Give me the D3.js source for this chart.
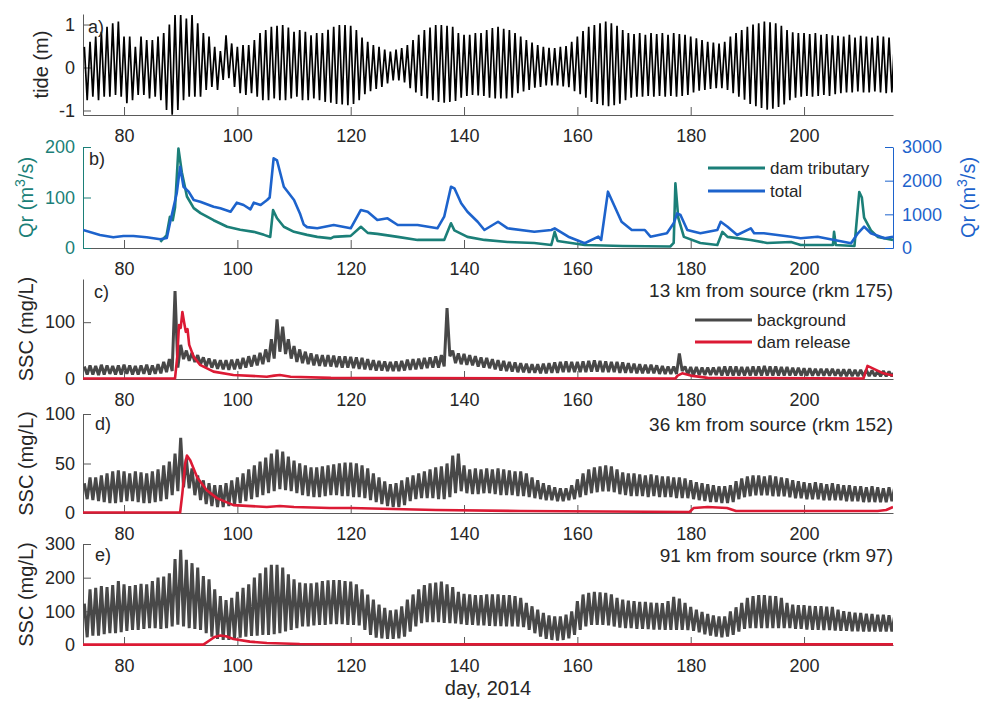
<!DOCTYPE html>
<html>
<head>
<meta charset="utf-8">
<script src="https://cdn.jsdelivr.net/npm/d3@7"></script>
<style>
  body { margin: 0; background: #fff; }
  svg { font-family: "Liberation Sans", Arial, Helvetica, sans-serif; }
</style>
</head>
<body>
<div id="chart"></div>
<script>
// days 73..216, one high and one low per day
var firstDay = 73;
var dayTicks = [80, 100, 120, 140, 160, 180, 200];

var tideHi = [0.48,0.6,0.72,0.83,0.95,1.03,1.07,0.72,0.72,0.48,
  0.72,0.64,0.64,0.72,0.8,1.0,1.22,1.22,1.14,1.22,
  1.03,0.8,0.72,0.48,0.38,0.75,0.56,0.48,0.52,0.52,
  0.64,0.8,0.87,0.95,0.97,0.99,0.93,0.83,0.87,0.83,
  0.75,
  0.8,0.8,0.88,0.95,0.99,0.99,0.97,0.87,0.7,0.6,
  0.52,0.48,0.42,0.37,0.42,0.45,0.52,0.64,0.76,0.87,
  0.93,0.99,0.99,0.97,0.95,0.8,0.76,0.76,0.8,0.8,
  0.87,0.92,0.95,0.9,0.87,0.8,0.72,0.64,0.58,0.52,
  0.48,0.46,0.45,0.48,0.5,0.6,0.72,0.85,0.95,0.99,
  1.03,1.07,1.03,0.97,0.87,0.8,0.78,0.8,0.76,0.8,
  0.78,0.8,0.76,0.8,0.78,0.76,0.72,0.68,0.64,0.6,
  0.58,0.56,0.6,0.72,0.8,0.87,0.95,1.0,1.03,1.07,
  1.05,1.03,0.97,0.87,0.82,0.8,0.8,0.78,0.8,0.76,
  0.78,0.75,0.74,0.72,0.76,0.7,0.74,0.72,0.7,0.74,
  0.72,0.7,0.72];
var tideLo = [-0.76,-0.68,-0.76,-0.68,-0.68,-0.64,-0.68,-0.83,-0.76,-0.64,
  -0.64,-0.72,-0.68,-0.76,-0.99,-1.1,-0.99,-0.76,-0.68,-0.68,
  -0.68,-0.52,-0.45,-0.52,-0.29,-0.25,-0.45,-0.6,-0.64,-0.6,
  -0.68,-0.76,-0.76,-0.72,-0.76,-0.76,-0.72,-0.68,-0.76,-0.76,
  -0.72,
  -0.76,-0.8,-0.82,-0.85,-0.86,-0.88,-0.85,-0.76,-0.62,-0.55,
  -0.5,-0.45,-0.37,-0.3,-0.3,-0.35,-0.48,-0.58,-0.66,-0.72,
  -0.76,-0.8,-0.82,-0.8,-0.78,-0.7,-0.66,-0.64,-0.65,-0.66,
  -0.7,-0.72,-0.72,-0.72,-0.7,-0.6,-0.56,-0.52,-0.47,-0.45,
  -0.42,-0.42,-0.42,-0.44,-0.46,-0.55,-0.62,-0.7,-0.8,-0.85,
  -0.88,-0.9,-0.88,-0.84,-0.76,-0.7,-0.68,-0.68,-0.66,-0.68,
  -0.66,-0.68,-0.66,-0.68,-0.66,-0.64,-0.58,-0.54,-0.52,-0.5,
  -0.48,-0.48,-0.52,-0.6,-0.68,-0.75,-0.85,-0.9,-0.94,-0.98,
  -0.96,-0.92,-0.86,-0.76,-0.7,-0.68,-0.66,-0.68,-0.66,-0.64,
  -0.66,-0.62,-0.6,-0.58,-0.58,-0.56,-0.58,-0.58,-0.56,-0.58,
  -0.6,-0.58,-0.6];

// river discharge [day, m3/s]
var qDam = [[86.4,12],[87.5,25],[88.1,62],[88.6,55],[89.0,80],[89.6,197],[90.2,150],[91.1,102],
  [92.3,79],[93.5,69],[95.8,55],[98.2,42],[100.5,36],[102.9,32],[104.7,26],[105.8,22],[106.3,75],
  [107.0,59],[108.2,42],[110.0,32],[112.3,26],[114.1,22],[116.5,19],[117.0,22],[120.0,24],[121.8,42],
  [123.0,30],[124.7,28],[128.3,22],[131.8,16],[136.5,16],[137.7,49],[138.3,35],[140.6,22],[143.6,16],
  [147.7,12],[152.4,10],[155.4,6],[156.0,32],[156.5,14],[161.3,6],[168,4],[176.4,3],[177.0,10],
  [177.3,128],[177.8,60],[178.8,22],[181.7,10],[184.7,6],[185.6,32],[186.5,22],[190.6,16],[193.5,10],
  [197.7,12],[199.4,6],[205.1,6],[205.3,32],[205.6,6],[208.9,4],[209.75,111],[210.2,100],[210.6,60],
  [211.8,35],[213.0,22],[215.7,16]];
var qTotal = [[72.76,535],[75.75,386],[78.1,317],[79.9,356],[81.65,356],[84.0,317],[86.4,258],[87.55,300],
  [88.1,733],[89.3,1625],[89.9,2415],[90.5,1820],[91.4,1673],[92.3,1425],[93.45,1375],[95.8,1227],
  [97.0,1178],[98.8,1078],[99.9,1346],[101.1,1277],[102.3,1150],[102.9,1346],[104.1,1277],[105.25,1425],
  [105.7,1500],[106.4,2665],[107.0,2600],[108.2,1820],[110.0,1425],[111.1,1000],[111.7,700],[112.3,620],
  [114.1,585],[117.0,683],[120.0,585],[121.8,1129],[123.0,1078],[124.7,832],[126.5,882],[128.3,683],
  [131.8,683],[135.3,585],[136.5,930],[137.7,1820],[138.3,1773],[139.5,1328],[140.6,1078],[142.4,780],
  [143.6,535],[146.0,780],[147.7,585],[152.4,484],[155.4,535],[156.0,585],[158.4,336],[161.3,140],
  [163.7,336],[164.2,238],[165.4,1673],[166.6,1227],[167.8,780],[169.6,535],[171.9,535],[172.9,336],
  [175.8,437],[177.0,733],[177.6,1030],[178.2,980],[179.4,535],[181.7,437],[184.7,535],[185.3,780],
  [186.5,633],[188.2,386],[190.6,585],[191.2,437],[192.9,437],[197.7,336],[199.4,288],[202.4,336],
  [208.3,140],[209.5,437],[210.6,633],[211.8,437],[214.2,288],[215.7,336]];

// SSC background, daily high / low (mg/L)
var sscCHi = [22,24,23,25,24,23,24,25,24,23, 24,25,24,26,30,35,155,60,50,46,
  42,38,36,34,33,33,34,35,37,40, 42,46,52,70,105,92,70,58,52,48,
  45,43,42,42,41,40,40,39,38,37, 35,33,32,31,30,31,32,34,35,36,
  37,38,40,42,125,50,45,44,42,40, 38,37,35,33,32,30,29,28,27,26,
  26,27,28,29,30,31,30,30,31,32, 33,32,31,30,30,29,28,27,26,25,
  25,24,23,22,22,45,22,21,21,20, 20,20,21,22,22,22,21,21,22,22,
  23,22,22,21,21,20,20,19,19,18, 18,18,18,17,17,17,16,16,16,15,
  14,14,13,12];
var sscCLo = [8,8,7,8,9,8,8,9,8,8, 9,8,9,10,12,14,20,35,32,30,
  26,22,20,18,17,16,17,18,20,22, 24,26,30,36,48,44,36,30,28,26,
  24,23,22,22,21,20,20,19,18,17, 16,15,15,14,14,14,15,16,17,18,
  19,20,20,22,40,28,26,25,24,22, 20,19,17,15,14,13,12,12,11,11,
  10,10,11,11,12,12,12,12,12,13, 13,12,12,12,11,11,11,10,10,10,
  10,9,9,9,9,14,8,7,7,7, 7,7,6,6,6,6,6,6,6,6,
  6,6,6,6,6,6,6,6,6,6, 6,6,6,5,5,5,5,5,5,5,
  5,5,5,5];
var sscDHi = [30,36,36,38,40,42,43,42,40,42, 41,40,42,44,48,52,60,76,55,45,
  38,33,30,28,28,30,33,36,40,44, 48,52,56,60,64,62,57,53,50,48,
  46,46,47,48,49,50,51,51,50,48, 45,40,36,32,29,30,33,36,38,40,
  42,44,46,47,50,58,60,48,44,45, 44,45,44,45,44,43,42,42,40,36,
  33,30,28,26,25,25,28,34,40,44, 46,47,48,47,44,41,40,40,39,38,
  39,38,37,37,36,36,35,33,31,30, 29,28,27,27,28,32,35,37,38,38,
  37,38,37,36,35,33,32,31,30,31, 30,29,30,29,28,28,27,27,26,27,
  26,25,26,26];
var sscDLo = [14,13,12,11,10,10,11,12,12,11, 10,10,11,12,14,18,22,26,25,18,
  13,9,7,6,6,7,8,10,12,14, 16,18,20,22,24,23,22,20,18,17,
  16,16,17,18,18,17,17,16,16,15, 13,11,9,7,6,6,8,12,14,15,
  15,15,14,14,16,20,22,20,19,19, 20,20,19,18,18,18,17,17,16,15,
  14,13,13,12,12,13,14,16,18,20, 21,22,22,21,19,18,17,17,17,16,
  17,16,16,16,15,15,15,14,13,12, 11,11,10,10,11,14,16,17,18,18,
  18,17,17,17,16,15,15,14,14,14, 13,13,13,13,12,12,12,11,11,11,
  11,11,12,12];
var sscEHi = [123,165,170,175,172,178,190,180,175,178, 182,180,190,200,203,213,255,283,253,243,
  230,205,195,165,145,133,140,158,170,180, 200,213,230,238,238,230,210,195,185,183,
  183,185,190,192,193,193,190,188,180,165, 150,135,120,110,103,105,115,135,150,165,
  178,183,185,188,180,172,158,152,150,148, 148,150,150,150,148,148,145,140,125,115,
  105,95,88,85,85,90,100,130,150,155, 158,156,155,150,140,135,132,130,128,128,
  126,125,124,130,143,138,125,113,105,98, 92,88,85,85,100,112,125,140,145,148,
  148,146,145,140,125,120,118,118,116,115, 115,114,113,105,100,98,96,95,93,92,
  90,90,88,88];
var sscELo = [23,28,28,32,35,35,38,42,45,45, 48,50,50,48,50,55,60,55,50,48,
  45,35,25,18,15,15,18,22,25,27, 28,30,30,32,35,40,45,50,55,55,
  58,60,60,62,62,62,60,60,58,45, 30,22,20,18,18,20,25,40,55,65,
  68,68,68,66,65,64,62,60,60,58, 58,57,56,56,55,55,55,53,45,35,
  25,18,15,13,15,20,30,45,55,60, 60,60,58,55,52,50,50,48,48,47,
  46,46,45,45,45,45,44,42,38,32, 28,25,23,25,30,40,48,50,50,50,
  50,50,50,50,50,48,48,46,45,45, 44,44,43,42,42,41,41,40,40,40,
  40,40,40,40];

// dam release SSC [day, mg/L]
var relC = [[72.76,1],[89.0,1],[89.4,40],[89.7,95],[90.0,90],[90.3,118],[90.6,100],[90.9,83],[91.2,88],
  [91.5,60],[92.3,39],[93.4,25],[95.8,13],[99.3,7],[105.2,4],[106.5,6],[107.5,7],[109.4,4],[116.5,2],
  [130,1.5],[177.3,1],[177.7,6],[178.5,10],[180,6],[183,2],[210.5,1],[211.2,23],[212.5,17],[214,10],[215.7,6]];
var relD = [[72.76,0.5],[89.9,0.5],[90.3,20],[90.8,50],[91.1,58],[91.7,53],[92.9,36],[94.6,23],[96.4,15],
  [99.3,8],[105.2,6],[107.5,7],[110,6],[116.3,5],[120,5],[127.5,4],[135,3],[150,2],[165,1.5],[179.8,1],
  [180.5,5],[183,6],[186.4,5],[188,2],[200,2],[213,2],[214.5,3],[215.7,6]];
var relE = [[72.76,1],[94,1],[95.2,15],[96,24],[97,28],[98,26],[99.3,18],[102.2,10],[105.2,6],[111,3],
  [120,2],[215.7,2]];

// Style setting
var W = 981, H = 703;
var left = 83, right = 893;
var axisCol = "#5a5a5a", textCol = "#262626";
var teal = "#1b7f78", blue = "#1d63cc", gray = "#484848", red = "#dc1a34";
var tickFont = 18, labelFont = 20;

var svg = d3.select("#chart").append("svg")
    .attr("width", W)
    .attr("height", H);

var x = d3.scaleLinear().domain([72.76, 215.7]).range([left, right]);

function zigzag(hi, lo) {
  var pts = [];
  hi.forEach(function(h, i) {
    pts.push([firstDay + i, h]);
    pts.push([firstDay + i + 0.5, lo[i]]);
  });
  return pts;
}

function plain(d) { return String(d); }

function styleAxis(a, col) {
  a.select(".domain").attr("stroke", col);
  a.selectAll(".tick line").attr("stroke", col);
  a.selectAll(".tick text").attr("fill", col === axisCol ? textCol : col)
    .attr("font-size", tickFont).attr("font-family", null);
  a.attr("font-family", null);
}

function panel(id, top, bottom, domain, yticks, ycol) {
  var y = d3.scaleLinear().domain(domain).range([bottom, top]);
  var g = svg.append("g");
  g.append("clipPath").attr("id", "clip-" + id)
    .append("rect")
    .attr("x", left).attr("y", top - 2)
    .attr("width", right - left).attr("height", bottom - top + 3);

  var xa = g.append("g")
    .attr("transform", "translate(0," + bottom + ")")
    .call(d3.axisBottom(x).tickValues(dayTicks).tickSizeInner(-8).tickSizeOuter(0).tickPadding(14));
  styleAxis(xa, axisCol);

  var ya = g.append("g")
    .attr("transform", "translate(" + left + ",0)")
    .call(d3.axisLeft(y).tickValues(yticks).tickSizeInner(-8).tickSizeOuter(0).tickPadding(8)
      .tickFormat(plain));
  styleAxis(ya, ycol || axisCol);

  var plot = g.append("g").attr("clip-path", "url(#clip-" + id + ")");
  return { y: y, g: g, plot: plot };
}

function drawLine(p, y, data, col, w, join) {
  var line = d3.line()
    .x(function(d) { return x(d[0]); })
    .y(function(d) { return y(d[1]); });
  p.plot.append("path")
    .datum(data)
    .attr("fill", "none")
    .attr("stroke", col)
    .attr("stroke-width", w)
    .attr("stroke-linejoin", join || "round")
    .attr("d", line);
}

function ylabel(bx, cy, col, build) {
  var t = svg.append("text")
    .attr("transform", "translate(" + bx + "," + cy + ") rotate(-90)")
    .attr("text-anchor", "middle")
    .attr("font-size", labelFont)
    .attr("fill", col);
  build(t);
}

function qrLabel(t) {
  t.append("tspan").text("Qr (m");
  t.append("tspan").attr("dy", -8).attr("font-size", 14).text("3");
  t.append("tspan").attr("dy", 8).text("/s)");
}

function tag(px, py, s, size, anchor) {
  svg.append("text")
    .attr("x", px).attr("y", py)
    .attr("font-size", size)
    .attr("fill", textCol)
    .attr("text-anchor", anchor || "start")
    .text(s);
}

// a) tide
var pa = panel("a", 14, 115, [-1.105, 1.245], [-1, 0, 1]);
drawLine(pa, pa.y, zigzag(tideHi, tideLo), "#000", 1.7, "bevel");
ylabel(48, 64.5, textCol, function(t) { t.text("tide (m)"); });
tag(88, 33, "a)", 18);

// b) river discharge
var pb = panel("b", 147, 248, [0, 200], [0, 100, 200], teal);
var yR = d3.scaleLinear().domain([0, 3000]).range([248, 147]);
var ra = pb.g.append("g")
  .attr("transform", "translate(" + right + ",0)")
  .call(d3.axisRight(yR).tickValues([0, 1000, 2000, 3000]).tickSizeInner(-8).tickSizeOuter(0).tickPadding(9)
    .tickFormat(plain));
styleAxis(ra, blue);
drawLine(pb, pb.y, qDam, teal, 2.6);
drawLine(pb, yR, qTotal, blue, 2.6);
ylabel(33, 197.5, teal, qrLabel);
ylabel(975, 197.5, blue, qrLabel);
tag(89, 165, "b)", 18);

var legB = [["dam tributary", teal, 168], ["total", blue, 191]];
legB.forEach(function(l) {
  svg.append("line").attr("x1", 708).attr("x2", 765).attr("y1", l[2]).attr("y2", l[2])
    .attr("stroke", l[1]).attr("stroke-width", 3);
  tag(770, l[2] + 6, l[0], 17);
});

// c) SSC 13 km
var pc = panel("c", 279, 379, [0, 176], [0, 100]);
drawLine(pc, pc.y, zigzag(sscCHi, sscCLo), gray, 3, "bevel");
drawLine(pc, pc.y, relC, red, 2.6);
ylabel(33, 329, textCol, function(t) { t.text("SSC (mg/L)"); });
tag(94, 298, "c)", 18);
tag(893, 297, "13 km from source (rkm 175)", 19, "end");

var legC = [["background", gray, 320], ["dam release", red, 342]];
legC.forEach(function(l) {
  svg.append("line").attr("x1", 695).attr("x2", 752).attr("y1", l[2]).attr("y2", l[2])
    .attr("stroke", l[1]).attr("stroke-width", 3);
  tag(757, l[2] + 6, l[0], 17);
});

// d) SSC 36 km
var pd = panel("d", 414, 513, [0, 100], [0, 50, 100]);
drawLine(pd, pd.y, zigzag(sscDHi, sscDLo), gray, 3, "bevel");
drawLine(pd, pd.y, relD, red, 2.6);
ylabel(33, 463.5, textCol, function(t) { t.text("SSC (mg/L)"); });
tag(95, 430, "d)", 18);
tag(893, 431, "36 km from source (rkm 152)", 19, "end");

// e) SSC 91 km
var pe = panel("e", 544, 645, [0, 300], [0, 100, 200, 300]);
drawLine(pe, pe.y, zigzag(sscEHi, sscELo), gray, 3, "bevel");
drawLine(pe, pe.y, relE, red, 2.6);
ylabel(33, 594.5, textCol, function(t) { t.text("SSC (mg/L)"); });
tag(95, 561, "e)", 18);
tag(893, 562, "91 km from source (rkm 97)", 19, "end");

tag(488, 695, "day, 2014", labelFont, "middle");
</script>
</body>
</html>
